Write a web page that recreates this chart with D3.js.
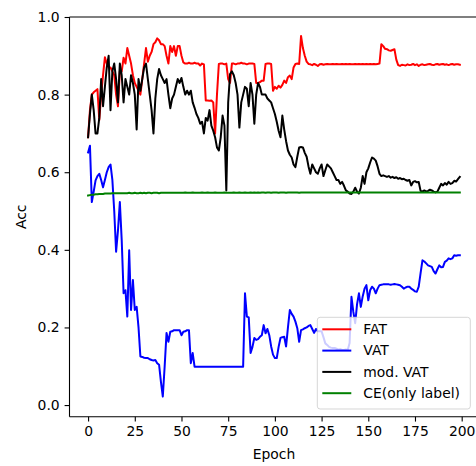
<!DOCTYPE html>
<html>
<head>
<meta charset="utf-8">
<script src="https://cdn.jsdelivr.net/npm/d3@7"></script>
<style>
  body { margin: 0; background: #fff; }
  svg { display: block; font-family: "DejaVu Sans", sans-serif; }
</style>
</head>
<body>
<div id="chart"></div>
<script>
// accuracy per epoch (epochs 0..199)
var fatAcc = [
  0.69, 0.76, 0.80, 0.806, 0.81, 0.814, 0.735, 0.80, 0.85, 0.896,
  0.88, 0.87, 0.87, 0.86, 0.85, 0.80, 0.77, 0.86, 0.86, 0.895,
  0.88, 0.92, 0.90, 0.88, 0.85, 0.83, 0.82, 0.81, 0.80, 0.84,
  0.88, 0.92, 0.885, 0.90, 0.91, 0.93, 0.935, 0.945, 0.94, 0.93,
  0.93, 0.925, 0.90, 0.88, 0.925, 0.91, 0.925, 0.90, 0.925, 0.925,
  0.90, 0.883, 0.88, 0.88, 0.882, 0.88, 0.88, 0.882, 0.88, 0.88,
  0.875, 0.88, 0.878, 0.785, 0.785, 0.784, 0.785, 0.78, 0.70, 0.80,
  0.879, 0.88, 0.88, 0.878, 0.88, 0.84, 0.83, 0.88, 0.88, 0.878,
  0.88, 0.88, 0.882, 0.88, 0.88, 0.878, 0.88, 0.88, 0.88, 0.879,
  0.83, 0.83, 0.832, 0.836, 0.836, 0.879, 0.88, 0.88, 0.879, 0.81,
  0.82, 0.815, 0.823, 0.818, 0.825, 0.836, 0.83, 0.845, 0.849, 0.84,
  0.87, 0.879, 0.88, 0.879, 0.951, 0.92, 0.90, 0.885, 0.879, 0.878,
  0.876, 0.879, 0.877, 0.874, 0.878, 0.879, 0.877, 0.878, 0.879, 0.878,
  0.878, 0.879, 0.878, 0.879, 0.878, 0.878, 0.879, 0.878, 0.879, 0.878,
  0.879, 0.878, 0.878, 0.879, 0.878, 0.879, 0.878, 0.879, 0.878, 0.879,
  0.878, 0.879, 0.878, 0.879, 0.878, 0.879, 0.88, 0.93, 0.925, 0.918,
  0.917, 0.914, 0.913, 0.915, 0.917, 0.89, 0.876, 0.874, 0.877, 0.876,
  0.875, 0.878, 0.876, 0.877, 0.879, 0.876, 0.878, 0.874, 0.877, 0.878,
  0.876, 0.877, 0.878, 0.879, 0.877, 0.876, 0.878, 0.879, 0.877, 0.878,
  0.879, 0.877, 0.878, 0.876, 0.878, 0.879, 0.877, 0.878, 0.878, 0.877
];

var vatAcc = [
  0.651, 0.668, 0.523, 0.55, 0.579, 0.59, 0.596, 0.58, 0.561, 0.58,
  0.60, 0.613, 0.62, 0.58, 0.50, 0.395, 0.45, 0.523, 0.425, 0.288,
  0.296, 0.228, 0.399, 0.245, 0.322, 0.245, 0.253, 0.20, 0.125, 0.124,
  0.122, 0.121, 0.121, 0.118, 0.116, 0.115, 0.116, 0.108, 0.104, 0.06,
  0.022, 0.10, 0.186, 0.163, 0.189, 0.19, 0.193, 0.193, 0.193, 0.193,
  0.18, 0.189, 0.19, 0.193, 0.193, 0.108, 0.134, 0.099, 0.099, 0.099,
  0.099, 0.099, 0.099, 0.099, 0.099, 0.099, 0.099, 0.099, 0.099, 0.099,
  0.099, 0.099, 0.099, 0.099, 0.099, 0.099, 0.099, 0.099, 0.099, 0.099,
  0.099, 0.099, 0.099, 0.099, 0.288, 0.228, 0.226, 0.134, 0.15, 0.173,
  0.168, 0.17, 0.176, 0.18, 0.206, 0.185, 0.196, 0.18, 0.151, 0.13,
  0.121, 0.121, 0.15, 0.173, 0.175, 0.176, 0.151, 0.20, 0.245, 0.235,
  0.228, 0.215, 0.198, 0.163, 0.193, 0.195, 0.198, 0.20, 0.204, 0.206,
  0.196, 0.186, 0.196, 0.19, 0.19, 0.19, 0.175, 0.159, 0.155, 0.15,
  0.148, 0.147, 0.147, 0.145, 0.143, 0.144, 0.142, 0.142, 0.143, 0.142,
  0.16, 0.279, 0.24, 0.211, 0.26, 0.288, 0.253, 0.28, 0.30, 0.309,
  0.27, 0.296, 0.305, 0.30, 0.288, 0.30, 0.309, 0.31, 0.311, 0.311,
  0.311, 0.311, 0.31, 0.311, 0.312, 0.311, 0.31, 0.309, 0.305, 0.30,
  0.303, 0.305, 0.305, 0.30, 0.297, 0.293, 0.292, 0.305, 0.34, 0.373,
  0.37, 0.365, 0.36, 0.358, 0.356, 0.345, 0.339, 0.35, 0.36, 0.355,
  0.356, 0.369, 0.372, 0.378, 0.376, 0.378, 0.386, 0.385, 0.386, 0.386
];

var modVatAcc = [
  0.69, 0.75, 0.80, 0.76, 0.70, 0.70, 0.74, 0.84, 0.77, 0.82,
  0.87, 0.90, 0.76, 0.86, 0.88, 0.84, 0.78, 0.88, 0.85, 0.78,
  0.84, 0.82, 0.80, 0.85, 0.83, 0.80, 0.71, 0.84, 0.81, 0.84,
  0.87, 0.88, 0.84, 0.80, 0.76, 0.70, 0.79, 0.84, 0.866, 0.85,
  0.84, 0.83, 0.84, 0.80, 0.765, 0.79, 0.80, 0.82, 0.84, 0.83,
  0.843, 0.82, 0.80, 0.81, 0.80, 0.81, 0.78, 0.766, 0.75, 0.74,
  0.725, 0.73, 0.70, 0.74, 0.733, 0.76, 0.72, 0.707, 0.69, 0.664,
  0.656, 0.69, 0.746, 0.72, 0.553, 0.78, 0.853, 0.86, 0.85, 0.83,
  0.80, 0.715, 0.78, 0.80, 0.82, 0.815, 0.77, 0.83, 0.80, 0.725,
  0.80, 0.83, 0.82, 0.80, 0.80, 0.80, 0.79, 0.785, 0.78, 0.765,
  0.75, 0.73, 0.707, 0.69, 0.746, 0.71, 0.68, 0.656, 0.645, 0.638,
  0.62, 0.613, 0.64, 0.664, 0.665, 0.664, 0.65, 0.64, 0.615, 0.596,
  0.62, 0.61, 0.60, 0.596, 0.61, 0.62, 0.59, 0.605, 0.62, 0.615,
  0.61, 0.60, 0.59, 0.58, 0.58, 0.57, 0.575, 0.565, 0.553, 0.55,
  0.545, 0.544, 0.55, 0.56, 0.55, 0.545, 0.56, 0.59, 0.57, 0.60,
  0.61, 0.625, 0.638, 0.635, 0.63, 0.615, 0.596, 0.59, 0.592, 0.59,
  0.588, 0.59, 0.586, 0.588, 0.585, 0.587, 0.583, 0.585, 0.582, 0.583,
  0.58, 0.578, 0.58, 0.566, 0.575, 0.577, 0.574, 0.575, 0.552, 0.55,
  0.553, 0.55, 0.552, 0.555, 0.553, 0.55, 0.548, 0.55, 0.56, 0.57,
  0.566, 0.572, 0.568, 0.575, 0.57, 0.572, 0.578, 0.576, 0.582, 0.588
];

var ceAcc = [
  0.540, 0.541, 0.542, 0.542, 0.543, 0.543, 0.544, 0.544, 0.544, 0.545,
  0.545, 0.545, 0.545, 0.546, 0.546, 0.546, 0.546, 0.546, 0.546, 0.546,
  0.546, 0.546, 0.547, 0.546, 0.546, 0.547, 0.546, 0.546, 0.547, 0.546,
  0.547, 0.546, 0.547, 0.547, 0.546, 0.547, 0.547, 0.547, 0.546, 0.547,
  0.547, 0.547, 0.547, 0.547, 0.547, 0.547, 0.547, 0.547, 0.547, 0.547,
  0.547, 0.547, 0.548, 0.547, 0.547, 0.547, 0.548, 0.547, 0.547, 0.547,
  0.547, 0.548, 0.547, 0.547, 0.548, 0.547, 0.547, 0.547, 0.548, 0.547,
  0.547, 0.547, 0.547, 0.548, 0.547, 0.547, 0.547, 0.547, 0.548, 0.547,
  0.547, 0.548, 0.547, 0.547, 0.548, 0.547, 0.547, 0.548, 0.547, 0.548,
  0.547, 0.548, 0.547, 0.548, 0.548, 0.547, 0.548, 0.548, 0.547, 0.548,
  0.548, 0.548, 0.547, 0.548, 0.548, 0.548, 0.547, 0.548, 0.548, 0.548,
  0.548, 0.548, 0.548, 0.547, 0.548, 0.548, 0.548, 0.548, 0.548, 0.548,
  0.548, 0.548, 0.548, 0.548, 0.548, 0.548, 0.548, 0.548, 0.548, 0.548,
  0.548, 0.548, 0.548, 0.548, 0.548, 0.548, 0.548, 0.548, 0.548, 0.548,
  0.548, 0.548, 0.548, 0.548, 0.548, 0.548, 0.548, 0.548, 0.548, 0.548,
  0.548, 0.548, 0.548, 0.548, 0.548, 0.548, 0.548, 0.548, 0.548, 0.548,
  0.548, 0.548, 0.548, 0.548, 0.548, 0.548, 0.548, 0.548, 0.548, 0.548,
  0.548, 0.548, 0.548, 0.548, 0.548, 0.548, 0.548, 0.548, 0.548, 0.548,
  0.548, 0.548, 0.548, 0.548, 0.548, 0.548, 0.548, 0.548, 0.548, 0.548,
  0.548, 0.548, 0.548, 0.548, 0.548, 0.548, 0.548, 0.548, 0.548, 0.548
];

var seriesNames = ["FAT", "VAT", "mod. VAT", "CE(only label)"];
var seriesColors = ["#ff0000", "#0000ff", "#000000", "#008000"];
var xTicks = [0, 25, 50, 75, 100, 125, 150, 175, 200];
var yTicks = [0.0, 0.2, 0.4, 0.6, 0.8, 1.0];

var width = 476,
	height = 466,
	fontSize = 13.9,
	plotLeft = 69.5,
	plotRight = 478.4, // right spine falls just outside the picture
	plotTop = 17,
	plotBottom = 416.7;

var series = [fatAcc, vatAcc, modVatAcc, ceAcc].map(function (vals, i) {
	return { name: seriesNames[i], color: seriesColors[i], values: vals };
});

var svg = d3.select("#chart")
	.append("svg")
	.attr("width", width)
	.attr("height", height);

var x = d3.scaleLinear()
	.domain([-9.95, 208.95])
	.range([plotLeft, plotRight]);

var y = d3.scaleLinear()
	.domain([-0.03, 1.0])
	.range([plotBottom, plotTop]);

svg.append("clipPath")
	.attr("id", "plot-clip")
	.append("rect")
	.attr("x", plotLeft)
	.attr("y", plotTop)
	.attr("width", plotRight - plotLeft)
	.attr("height", plotBottom - plotTop);

var line = d3.line()
	.x(function (d, i) { return x(i); })
	.y(function (d) { return y(d); });

svg.append("g")
	.attr("clip-path", "url(#plot-clip)")
	.selectAll("path")
	.data(series)
	.enter()
	.append("path")
	.attr("d", function (d) { return line(d.values); })
	.attr("fill", "none")
	.attr("stroke", function (d) { return d.color; })
	.attr("stroke-width", 2)
	.attr("stroke-linejoin", "round")
	.attr("stroke-linecap", "square");

// axes
var xAxis = svg.append("g")
	.attr("transform", "translate(0," + plotBottom + ")")
	.call(d3.axisBottom(x).tickValues(xTicks).tickSize(4.9).tickPadding(4.9).tickSizeOuter(0));

var yAxis = svg.append("g")
	.attr("transform", "translate(" + plotLeft + ",0)")
	.call(d3.axisLeft(y).tickValues(yTicks).tickFormat(d3.format(".1f")).tickSize(4.9).tickPadding(4.9).tickSizeOuter(0));

[xAxis, yAxis].forEach(function (ax) {
	ax.select(".domain").remove();
	ax.selectAll(".tick line").attr("stroke", "#000").attr("stroke-width", 1.1);
	ax.selectAll(".tick text")
		.attr("fill", "#000")
		.style("font-size", fontSize + "px")
		.style("font-family", "DejaVu Sans");
});

// spines (left, bottom, top; right is off the picture)
var spines = svg.append("g")
	.attr("stroke", "#000")
	.attr("stroke-width", 1.1)
	.attr("fill", "none");
spines.append("line").attr("x1", plotLeft).attr("x2", plotLeft).attr("y1", plotTop).attr("y2", plotBottom);
spines.append("line").attr("x1", plotLeft).attr("x2", plotRight).attr("y1", plotBottom).attr("y2", plotBottom);
spines.append("line").attr("x1", plotLeft).attr("x2", plotRight).attr("y1", plotTop).attr("y2", plotTop);
spines.append("line").attr("x1", plotRight).attr("x2", plotRight).attr("y1", plotTop).attr("y2", plotBottom);

svg.append("text")
	.attr("x", (plotLeft + plotRight) / 2)
	.attr("y", 458.5)
	.attr("text-anchor", "middle")
	.style("font-size", fontSize + "px")
	.text("Epoch");

svg.append("text")
	.attr("transform", "translate(25.5," + ((plotTop + plotBottom) / 2) + ") rotate(-90)")
	.attr("text-anchor", "middle")
	.style("font-size", fontSize + "px")
	.text("Acc");

// legend
var legend = svg.append("g")
	.attr("transform", "translate(317.3,317.3)");

legend.append("rect")
	.attr("width", 153)
	.attr("height", 91.7)
	.attr("rx", 2.8)
	.attr("fill", "#fff")
	.attr("fill-opacity", 0.8)
	.attr("stroke", "#cccccc")
	.attr("stroke-opacity", 0.8)
	.attr("stroke-width", 1);

var item = legend.selectAll(".item")
	.data(series)
	.enter()
	.append("g")
	.attr("class", "item")
	.attr("transform", function (d, i) { return "translate(0," + (12 + i * 21.3) + ")"; });

item.append("line")
	.attr("x1", 5)
	.attr("x2", 34)
	.attr("stroke", function (d) { return d.color; })
	.attr("stroke-width", 2);

item.append("text")
	.attr("x", 46)
	.attr("dy", "0.35em")
	.style("font-size", fontSize + "px")
	.text(function (d) { return d.name; });
</script>
</body>
</html>
